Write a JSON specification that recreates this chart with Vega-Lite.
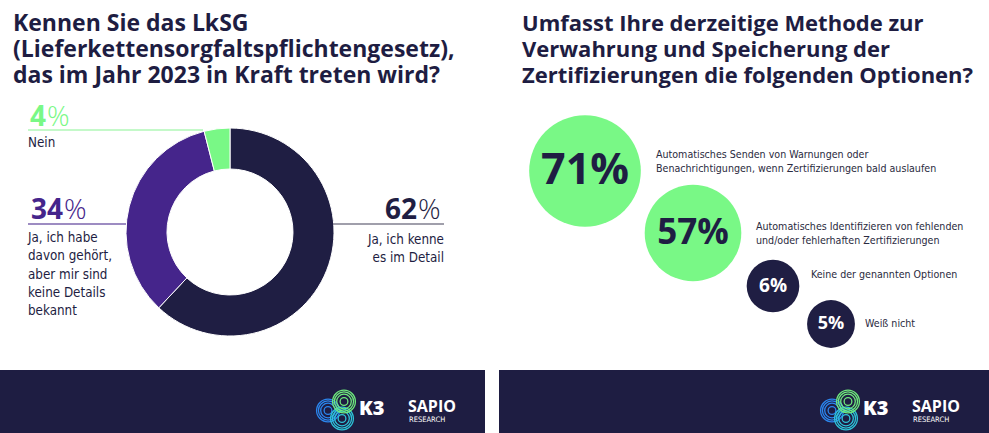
{
  "$schema": "https://vega.github.io/schema/vega-lite/v6.json",
  "background": "white",
  "padding": {"left": 0, "right": 0, "top": 13, "bottom": 0},
  "spacing": 14,
  "config": {
    "view": {"stroke": null},
    "legend": {"disable": true},
    "axis": {"disable": true}
  },
  "hconcat": [
    {
      "spacing": 0,
      "vconcat": [
        {
          "width": 460,
          "height": 276,
          "title": {
            "text": ["Kennen Sie das LkSG", "(Lieferkettensorgfaltspflichtengesetz),", "das im Jahr 2023 in Kraft treten wird?"],
            "anchor": "start", "frame": "group", "dx": 13, "offset": 6,
            "font": "Open Sans", "fontSize": 23, "fontWeight": "bold", "lineHeight": 26, "color": "#1e1d42"
          },
          "data": {"values": [
            {"cat": "Ja, ich kenne es im Detail", "pct": 62, "label": "Ja, ich kenne\nes im Detail"},
            {"cat": "Ja, ich habe davon gehört, aber mir sind keine Details bekannt", "pct": 34, "label": "Ja, ich habe\ndavon gehört,\naber mir sind\nkeine Details\nbekannt"},
            {"cat": "Nein", "pct": 4, "label": "Nein"}
          ]},
          "layer": [
            {
              "mark": {"type": "arc", "outerRadius": 104, "innerRadius": 63, "stroke": "white", "strokeWidth": 1},
              "encoding": {
                "theta": {"field": "pct", "type": "quantitative", "stack": true},
                "order": {"field": "pct", "sort": "descending"},
                "color": {"field": "pct", "type": "ordinal", "legend": null, "scale": {"domain": [4, 34, 62], "range": ["#79f886", "#45258b", "#1f1e43"]}}
              }
            },
            {
              "mark": {"type": "tick", "orient": "horizontal", "thickness": 1.3},
              "encoding": {
                "x": {"field": "pct", "type": "quantitative", "axis": null, "scale": {"domain": [4, 34, 62], "range": [115.5, 77, 388.5], "nice": false, "zero": false}},
                "y": {"field": "pct", "type": "quantitative", "axis": null, "scale": {"domain": [4, 34, 62], "range": [36, 130, 130], "nice": false, "zero": false}},
                "size": {"field": "pct", "type": "quantitative", "legend": null, "scale": {"domain": [4, 34, 62], "range": [175, 98, 111], "nice": false, "zero": false}},
                "color": {"field": "pct", "type": "ordinal", "legend": null, "scale": {"domain": [4, 34, 62], "range": ["#8ef398", "#45258b", "#4a4960"]}}
              }
            },
            {
              "mark": {"type": "text", "align": "right", "baseline": "alphabetic", "font": "Open Sans", "fontWeight": "bold", "fontSize": 28},
              "encoding": {
                "x": {"field": "pct", "type": "quantitative", "axis": null, "scale": {"domain": [4, 34, 62], "range": [46, 63, 417], "nice": false, "zero": false}},
                "y": {"field": "pct", "type": "quantitative", "axis": null, "scale": {"domain": [4, 34, 62], "range": [32, 125, 125], "nice": false, "zero": false}},
                "text": {"field": "pct", "type": "quantitative"},
                "color": {"field": "pct", "type": "ordinal", "legend": null, "scale": {"domain": [4, 34, 62], "range": ["#79f886", "#45258b", "#1f1e43"]}}
              }
            },
            {
              "mark": {"type": "text", "align": "left", "baseline": "alphabetic", "font": "Open Sans", "fontWeight": 300, "fontSize": 28},
              "encoding": {
                "x": {"field": "pct", "type": "quantitative", "axis": null, "scale": {"domain": [4, 34, 62], "range": [47, 64, 418], "nice": false, "zero": false}},
                "y": {"field": "pct", "type": "quantitative", "axis": null, "scale": {"domain": [4, 34, 62], "range": [32, 125, 125], "nice": false, "zero": false}},
                "text": {"value": "%"},
                "color": {"field": "pct", "type": "ordinal", "legend": null, "scale": {"domain": [4, 34, 62], "range": ["#79f886", "#45258b", "#1f1e43"]}}
              }
            },
            {
              "transform": [{"filter": "datum.pct < 50"}],
              "mark": {"type": "text", "align": "left", "baseline": "top", "lineBreak": "\n", "font": "DejaVu Sans Condensed, sans-serif", "fontSize": 13.3, "lineHeight": 18.3, "color": "#1e1d42"},
              "encoding": {
                "x": {"field": "pct", "type": "quantitative", "axis": null, "scale": {"domain": [4, 34, 62], "range": [28, 28, 444], "nice": false, "zero": false}},
                "y": {"field": "pct", "type": "quantitative", "axis": null, "scale": {"domain": [4, 34, 62], "range": [42, 137, 139], "nice": false, "zero": false}},
                "text": {"field": "label", "type": "nominal"}
              }
            },
            {
              "transform": [{"filter": "datum.pct > 50"}],
              "mark": {"type": "text", "align": "right", "baseline": "top", "lineBreak": "\n", "font": "DejaVu Sans Condensed, sans-serif", "fontSize": 13.3, "lineHeight": 18.3, "color": "#1e1d42"},
              "encoding": {
                "x": {"field": "pct", "type": "quantitative", "axis": null, "scale": {"domain": [4, 34, 62], "range": [28, 28, 444], "nice": false, "zero": false}},
                "y": {"field": "pct", "type": "quantitative", "axis": null, "scale": {"domain": [4, 34, 62], "range": [42, 137, 139], "nice": false, "zero": false}},
                "text": {"field": "label", "type": "nominal"}
              }
            }
          ],
          "resolve": {"scale": {"x": "independent", "y": "independent", "color": "independent", "size": "independent"}}
        },
        {
          "width": 485,
          "height": 63,
          "view": {"fill": "#1e1d42", "stroke": null},
          "layer": [
            {
              "data": {"values": [{"brand": "K3", "ring": 1}, {"brand": "K3", "ring": 2}, {"brand": "K3", "ring": 3}, {"brand": "K3", "ring": 4}]},
              "mark": {"type": "point", "shape": "circle", "filled": false, "color": "#2b86ee", "strokeWidth": 1.3, "opacity": 1, "xOffset": -31, "yOffset": 9},
              "encoding": {
                "x": {"field": "brand", "type": "nominal", "axis": null, "scale": {"type": "point", "domain": ["K3", "SAPIO"], "range": [359, 408], "padding": 0}},
                "size": {"field": "ring", "type": "quantitative", "legend": null, "scale": {"type": "linear", "domain": [1, 4], "range": [60, 520], "zero": false, "nice": false}}
              }
            },
            {
              "data": {"values": [{"brand": "K3", "ring": 1}, {"brand": "K3", "ring": 2}, {"brand": "K3", "ring": 3}, {"brand": "K3", "ring": 4}]},
              "mark": {"type": "point", "shape": "circle", "filled": false, "color": "#2ec4d9", "strokeWidth": 1.3, "opacity": 1, "xOffset": -17, "yOffset": 17},
              "encoding": {
                "x": {"field": "brand", "type": "nominal", "axis": null, "scale": {"type": "point", "domain": ["K3", "SAPIO"], "range": [359, 408], "padding": 0}},
                "size": {"field": "ring", "type": "quantitative", "legend": null, "scale": {"type": "linear", "domain": [1, 4], "range": [25, 200], "zero": false, "nice": false}}
              }
            },
            {
              "data": {"values": [{"brand": "K3", "ring": 1}, {"brand": "K3", "ring": 2}, {"brand": "K3", "ring": 3}, {"brand": "K3", "ring": 4}]},
              "mark": {"type": "point", "shape": "circle", "filled": false, "color": "#6fe97d", "strokeWidth": 1.3, "opacity": 1, "xOffset": -15, "yOffset": 0},
              "encoding": {
                "x": {"field": "brand", "type": "nominal", "axis": null, "scale": {"type": "point", "domain": ["K3", "SAPIO"], "range": [359, 408], "padding": 0}},
                "size": {"field": "ring", "type": "quantitative", "legend": null, "scale": {"type": "linear", "domain": [1, 4], "range": [40, 330], "zero": false, "nice": false}}
              }
            },
            {
              "data": {"values": [{"brand": "K3"}]},
              "mark": {"type": "text", "align": "left", "baseline": "middle", "dy": 7.5, "font": "Open Sans", "fontWeight": 800, "fontSize": 20, "color": "white"},
              "encoding": {
                "x": {"field": "brand", "type": "nominal", "axis": null, "scale": {"type": "point", "domain": ["K3", "SAPIO"], "range": [359, 408], "padding": 0}},
                "text": {"field": "brand", "type": "nominal"}
              }
            },
            {
              "data": {"values": [{"brand": "SAPIO"}]},
              "mark": {"type": "text", "align": "left", "baseline": "middle", "dy": 5, "font": "Open Sans", "fontWeight": "bold", "fontSize": 16, "letterSpacing": 1, "color": "white"},
              "encoding": {
                "x": {"field": "brand", "type": "nominal", "axis": null, "scale": {"type": "point", "domain": ["K3", "SAPIO"], "range": [359, 408], "padding": 0}},
                "text": {"field": "brand", "type": "nominal"}
              }
            },
            {
              "data": {"values": [{"brand": "SAPIO", "sub": "RESEARCH"}]},
              "mark": {"type": "text", "align": "left", "baseline": "middle", "dy": 18.5, "dx": 1, "font": "DejaVu Sans Condensed, sans-serif", "fontSize": 7.5, "color": "white"},
              "encoding": {
                "x": {"field": "brand", "type": "nominal", "axis": null, "scale": {"type": "point", "domain": ["K3", "SAPIO"], "range": [359, 408], "padding": 0}},
                "text": {"field": "sub", "type": "nominal"}
              }
            }
          ]
        }
      ]
    },
    {
      "spacing": 0,
      "vconcat": [
        {
          "width": 490,
          "height": 276,
          "title": {
            "text": ["Umfasst Ihre derzeitige Methode zur", "Verwahrung und Speicherung der", "Zertifizierungen die folgenden Optionen?"],
            "anchor": "start", "frame": "group", "dx": 23, "offset": 6,
            "font": "Open Sans", "fontSize": 22, "fontWeight": "bold", "lineHeight": 26, "color": "#1e1d42"
          },
          "data": {"values": [
            {"option": "Automatisches Senden von Warnungen oder Benachrichtigungen, wenn Zertifizierungen bald auslaufen", "pct": 71, "pctText": "71%", "label": "Automatisches Senden von Warnungen oder\nBenachrichtigungen, wenn Zertifizierungen bald auslaufen"},
            {"option": "Automatisches Identifizieren von fehlenden und/oder fehlerhaften Zertifizierungen", "pct": 57, "pctText": "57%", "label": "Automatisches Identifizieren von fehlenden\nund/oder fehlerhaften Zertifizierungen"},
            {"option": "Keine der genannten Optionen", "pct": 6, "pctText": "6%", "label": "Keine der genannten Optionen"},
            {"option": "Weiß nicht", "pct": 5, "pctText": "5%", "label": "Weiß nicht"}
          ]},
          "layer": [
            {
              "mark": {"type": "point", "shape": "circle", "filled": true, "opacity": 1, "strokeWidth": 0},
              "encoding": {
                "x": {"field": "pct", "type": "quantitative", "axis": null, "scale": {"domain": [5, 6, 57, 71], "range": [332, 274, 194, 86], "nice": false, "zero": false}},
                "y": {"field": "pct", "type": "quantitative", "axis": null, "scale": {"domain": [5, 6, 57, 71], "range": [230, 192, 139, 77], "nice": false, "zero": false}},
                "size": {"field": "pct", "type": "quantitative", "legend": null, "scale": {"domain": [5, 6, 57, 71], "range": [2290, 2771, 9331, 12469], "nice": false, "zero": false}},
                "color": {"field": "pct", "type": "quantitative", "legend": null, "scale": {"type": "threshold", "domain": [50], "range": ["#1f1e43", "#79f886"]}}
              }
            },
            {
              "mark": {"type": "text", "align": "center", "baseline": "middle", "font": "Open Sans", "fontWeight": "bold"},
              "encoding": {
                "x": {"field": "pct", "type": "quantitative", "axis": null, "scale": {"domain": [5, 6, 57, 71], "range": [332, 274, 194, 86], "nice": false, "zero": false}},
                "y": {"field": "pct", "type": "quantitative", "axis": null, "scale": {"domain": [5, 6, 57, 71], "range": [230, 192, 139, 77], "nice": false, "zero": false}},
                "size": {"field": "pct", "type": "quantitative", "legend": null, "scale": {"domain": [5, 6, 57, 71], "range": [18, 19, 35, 43], "nice": false, "zero": false}},
                "color": {"field": "pct", "type": "quantitative", "legend": null, "scale": {"type": "threshold", "domain": [50], "range": ["white", "#1f1e43"]}},
                "text": {"field": "pctText", "type": "nominal"}
              }
            },
            {
              "mark": {"type": "text", "align": "left", "baseline": "middle", "lineBreak": "\n", "font": "DejaVu Sans Condensed, sans-serif", "fontSize": 10.6, "lineHeight": 14, "color": "#2a2a40"},
              "encoding": {
                "x": {"field": "pct", "type": "quantitative", "axis": null, "scale": {"domain": [5, 6, 57, 71], "range": [366, 312, 257, 157], "nice": false, "zero": false}},
                "y": {"field": "pct", "type": "quantitative", "axis": null, "scale": {"domain": [5, 6, 57, 71], "range": [230, 181, 132.5, 61], "nice": false, "zero": false}},
                "text": {"field": "label", "type": "nominal"}
              }
            }
          ],
          "resolve": {"scale": {"x": "independent", "y": "independent", "color": "independent", "size": "independent"}}
        },
        {
          "width": 490,
          "height": 63,
          "view": {"fill": "#1e1d42", "stroke": null},
          "layer": [
            {
              "data": {"values": [{"brand": "K3", "ring": 1}, {"brand": "K3", "ring": 2}, {"brand": "K3", "ring": 3}, {"brand": "K3", "ring": 4}]},
              "mark": {"type": "point", "shape": "circle", "filled": false, "color": "#2b86ee", "strokeWidth": 1.3, "opacity": 1, "xOffset": -31, "yOffset": 9},
              "encoding": {
                "x": {"field": "brand", "type": "nominal", "axis": null, "scale": {"type": "point", "domain": ["K3", "SAPIO"], "range": [364, 413], "padding": 0}},
                "size": {"field": "ring", "type": "quantitative", "legend": null, "scale": {"type": "linear", "domain": [1, 4], "range": [60, 520], "zero": false, "nice": false}}
              }
            },
            {
              "data": {"values": [{"brand": "K3", "ring": 1}, {"brand": "K3", "ring": 2}, {"brand": "K3", "ring": 3}, {"brand": "K3", "ring": 4}]},
              "mark": {"type": "point", "shape": "circle", "filled": false, "color": "#2ec4d9", "strokeWidth": 1.3, "opacity": 1, "xOffset": -17, "yOffset": 17},
              "encoding": {
                "x": {"field": "brand", "type": "nominal", "axis": null, "scale": {"type": "point", "domain": ["K3", "SAPIO"], "range": [364, 413], "padding": 0}},
                "size": {"field": "ring", "type": "quantitative", "legend": null, "scale": {"type": "linear", "domain": [1, 4], "range": [25, 200], "zero": false, "nice": false}}
              }
            },
            {
              "data": {"values": [{"brand": "K3", "ring": 1}, {"brand": "K3", "ring": 2}, {"brand": "K3", "ring": 3}, {"brand": "K3", "ring": 4}]},
              "mark": {"type": "point", "shape": "circle", "filled": false, "color": "#6fe97d", "strokeWidth": 1.3, "opacity": 1, "xOffset": -15, "yOffset": 0},
              "encoding": {
                "x": {"field": "brand", "type": "nominal", "axis": null, "scale": {"type": "point", "domain": ["K3", "SAPIO"], "range": [364, 413], "padding": 0}},
                "size": {"field": "ring", "type": "quantitative", "legend": null, "scale": {"type": "linear", "domain": [1, 4], "range": [40, 330], "zero": false, "nice": false}}
              }
            },
            {
              "data": {"values": [{"brand": "K3"}]},
              "mark": {"type": "text", "align": "left", "baseline": "middle", "dy": 7.5, "font": "Open Sans", "fontWeight": 800, "fontSize": 20, "color": "white"},
              "encoding": {
                "x": {"field": "brand", "type": "nominal", "axis": null, "scale": {"type": "point", "domain": ["K3", "SAPIO"], "range": [364, 413], "padding": 0}},
                "text": {"field": "brand", "type": "nominal"}
              }
            },
            {
              "data": {"values": [{"brand": "SAPIO"}]},
              "mark": {"type": "text", "align": "left", "baseline": "middle", "dy": 5, "font": "Open Sans", "fontWeight": "bold", "fontSize": 16, "letterSpacing": 1, "color": "white"},
              "encoding": {
                "x": {"field": "brand", "type": "nominal", "axis": null, "scale": {"type": "point", "domain": ["K3", "SAPIO"], "range": [364, 413], "padding": 0}},
                "text": {"field": "brand", "type": "nominal"}
              }
            },
            {
              "data": {"values": [{"brand": "SAPIO", "sub": "RESEARCH"}]},
              "mark": {"type": "text", "align": "left", "baseline": "middle", "dy": 18.5, "dx": 1, "font": "DejaVu Sans Condensed, sans-serif", "fontSize": 7.5, "color": "white"},
              "encoding": {
                "x": {"field": "brand", "type": "nominal", "axis": null, "scale": {"type": "point", "domain": ["K3", "SAPIO"], "range": [364, 413], "padding": 0}},
                "text": {"field": "sub", "type": "nominal"}
              }
            }
          ]
        }
      ]
    }
  ]
}
